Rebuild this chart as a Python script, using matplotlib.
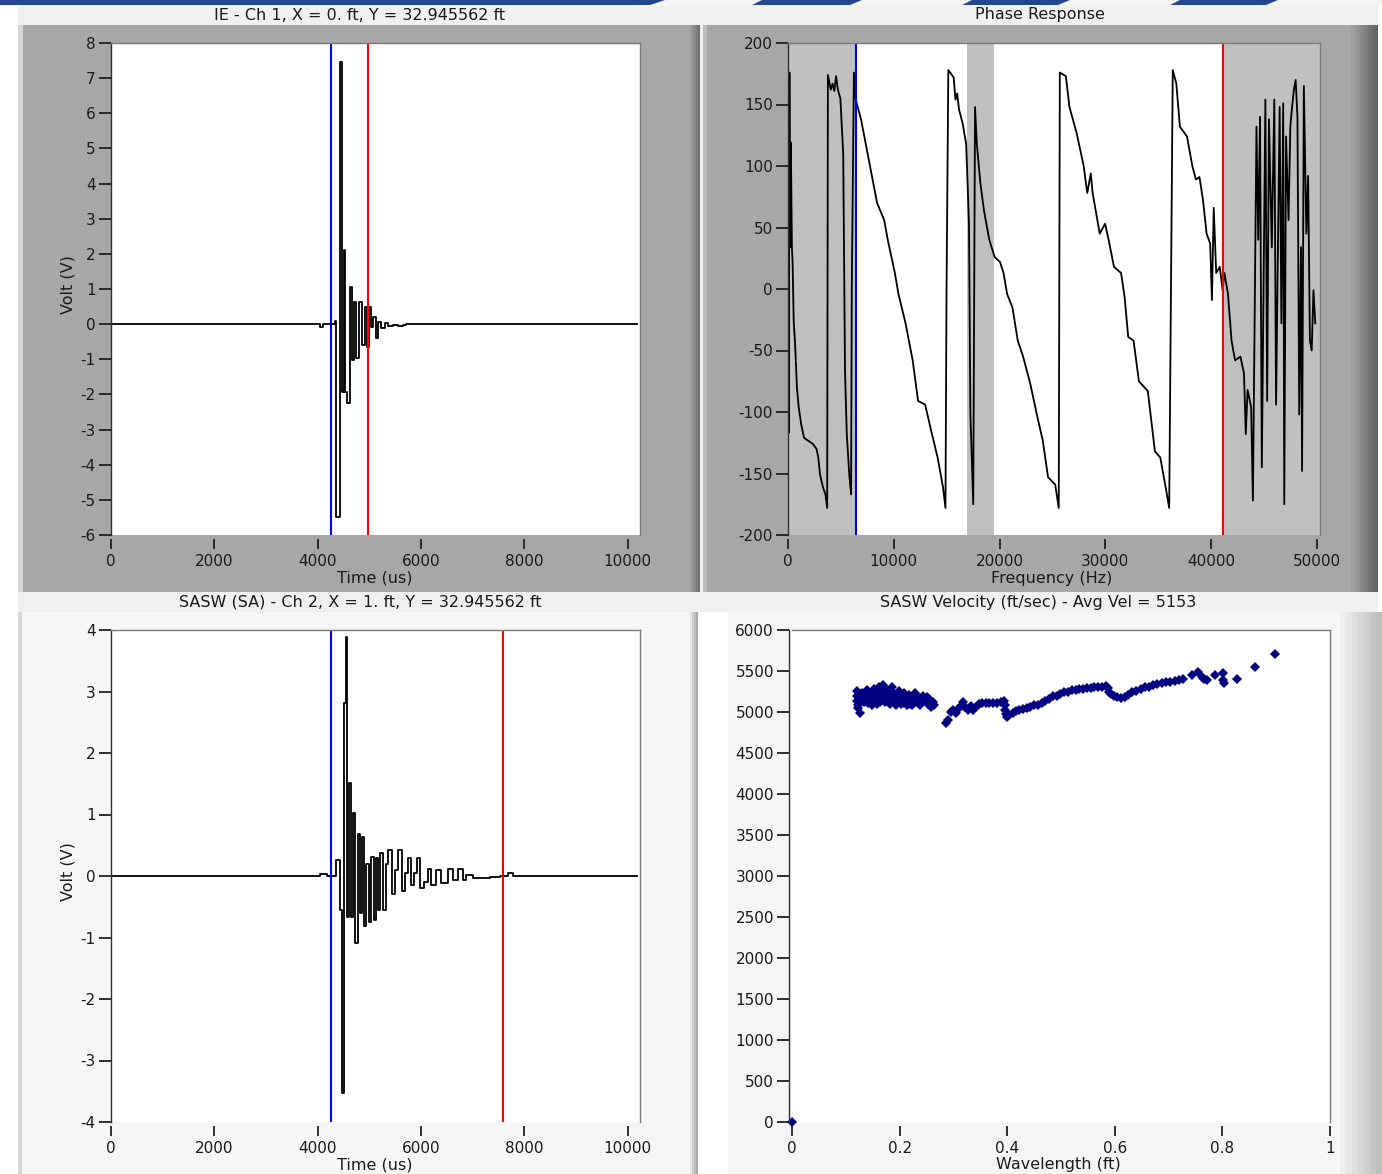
import matplotlib
matplotlib.use('Agg')
import matplotlib.pyplot as plt
from matplotlib.patches import Rectangle, Polygon

W, H = 1382, 1174

# ---------------- data ----------------
# IE - Ch 1 waveform (levels, drawn as steps)
ch1_t = [0, 4040, 4110, 4333, 4365, 4430, 4468, 4501, 4539, 4559, 4623, 4662, 4707,
         4752, 4804, 4849, 4913, 4958, 4991, 5029, 5074, 5126, 5177, 5235, 5300,
         5364, 5461, 5558, 5655, 5720, 10190]
ch1_v = [0, -0.08, 0, 0.1, -5.5, 7.45, -1.93, 2.1, -1.93, -2.25, 1.06, -1.02, 0.63,
         -0.97, 0.63, -0.6, 0.49, -0.65, 0.49, -0.08, 0.2, -0.4, 0.05, -0.1, 0.02,
         -0.06, -0.02, -0.06, -0.02, 0, 0]
ch1_cursors = [4255, 4977]

# SASW (SA) - Ch 2 waveform
ch2_t = [0, 4043, 4172, 4365, 4430, 4475, 4513, 4546, 4571, 4610, 4649, 4688, 4726,
         4778, 4816, 4855, 4900, 4945, 4991, 5029, 5087, 5139, 5177, 5216, 5274,
         5319, 5371, 5435, 5500, 5564, 5629, 5693, 5745, 5809, 5874, 5925, 5990,
         6054, 6138, 6203, 6299, 6396, 6525, 6622, 6718, 6815, 6880, 7008, 7170,
         7331, 7524, 7685, 7782, 10190]
ch2_v = [0, 0.03, 0, 0.26, -0.55, -3.53, 2.81, 3.89, -0.66, 1.51, -0.66, 1.02, -1.09,
         0.69, -0.6, 0.64, -0.82, 0.2, -0.75, 0.31, -0.71, 0.3, -0.55, 0.37, -0.55,
         0.2, 0.42, -0.3, 0.1, 0.42, -0.25, 0.05, 0.29, -0.15, 0.05, 0.29, -0.2,
         -0.1, 0.12, -0.14, 0.1, -0.12, 0.12, -0.06, 0.12, -0.06, 0.02, -0.04, -0.03,
         -0.01, 0, 0.05, 0, 0]
ch2_cursors = [4255, 7589]

# Phase response (deg vs Hz)
ph_f = [0, 67, 135, 202, 269, 370, 438, 539, 673, 842, 1010, 1246, 1515, 1852, 2357,
        2694, 2862, 3030, 3300, 3535, 3704, 3771, 4040, 4209, 4377, 4545, 4714, 4949,
        5219, 5387, 5556, 5791, 5960, 6027, 6229,
        6397, 6902, 7744, 8418, 9091, 9428, 10101, 10438, 11111, 11785, 12290, 12963,
        13468, 14141, 14646, 14882, 14983, 15152, 15657, 15825, 15993, 16162, 16498,
        16835, 16936, 17104, 17239, 17508, 17677, 17845, 18182, 18519, 19024, 19529,
        20034, 20370, 20707, 21212, 21717, 22222, 22896, 23569, 24074, 24579, 25253,
        25589, 25690, 26263, 26599, 27273, 27946, 28283, 28620, 28788, 28956, 29461,
        29966, 30303, 30808, 31481, 31818, 32155, 32660, 33165, 34007, 34680, 35185,
        35690, 36027, 36364, 36700, 37037, 37710, 38215, 38552, 38889, 39226, 39562,
        39899, 40067, 40236, 40471, 40808, 41077, 41246, 41582, 41919, 42256, 42761,
        43098, 43266, 43434, 43771, 43939, 44108, 44276, 44444, 44613, 44781, 45118,
        45286, 45455, 45724, 45960, 46128, 46465, 46633, 46802, 46903, 47071, 47307,
        47475, 47643, 47811, 47980, 48148, 48316, 48485, 48586, 48754, 48990, 49158,
        49327, 49495, 49663, 49832]
ph_deg = [180, -117, 176, 34, 119, 34, 21, -26, -45, -80, -96, -110, -121, -123, -126,
          -130, -137, -151, -161, -167, -178, 174, 162, 167, 161, 173, 162, 155,
          110, -66, -118, -151, -167, -1, 176,
          154, 138, 100, 70, 56, 40, 13, -4, -28, -58, -91, -94,
          -113, -137, -161, -178, -1, 178, 172, 154, 159, 146, 135,
          118, 95, 53, -102, -175, 148, 118, 86, 64, 40, 26,
          22, 13, -4, -15, -42, -55, -77, -104, -123, -153, -159,
          -178, 176, 173, 148, 127, 100, 78, 94, 78, 70, 45,
          53, 40, 18, 13, -7, -39, -42, -75, -83, -132, -137,
          -161, -178, 178, 167, 132, 124, 100, 89, 91, 72, 45,
          37, -9, 66, 13, 18, -1, 13, -4, -42, -58, -55,
          -69, -118, -82, -96, -172, -20, 132, 40, 140, -145, 154,
          -91, 138, 34, 154, -94, 148, -28, 151, -175, 124, 56,
          132, 148, 162, 170, 140, -102, 34, -148, 165, 45, 92,
          -42, -50, -1, -28]
ph_cursors = [6380, 41077]
ph_band = [16900, 19500]

# SASW velocity (ft/sec) vs wavelength (ft)
vel_lam = [0.0,
           0.121, 0.121, 0.121, 0.122, 0.123, 0.126, 0.128, 0.130, 0.133, 0.135, 0.138,
           0.140, 0.142, 0.145, 0.147, 0.150, 0.152, 0.155, 0.158, 0.160, 0.162, 0.165,
           0.167, 0.170, 0.172, 0.175, 0.177, 0.180, 0.182, 0.185, 0.188, 0.190, 0.193,
           0.195, 0.198, 0.200, 0.203, 0.205, 0.208, 0.210, 0.213, 0.215, 0.218, 0.220,
           0.223, 0.226, 0.228, 0.231, 0.234, 0.237, 0.240, 0.243, 0.246, 0.250, 0.253,
           0.256, 0.259, 0.262, 0.264,
           0.132, 0.137, 0.143, 0.148, 0.153, 0.157, 0.163, 0.168, 0.173, 0.178, 0.183,
           0.187, 0.192, 0.197, 0.202, 0.207, 0.212, 0.217, 0.222, 0.227, 0.233, 0.238,
           0.244, 0.249, 0.255, 0.260,
           0.286, 0.290, 0.296, 0.300, 0.305, 0.309, 0.314, 0.318, 0.322, 0.327, 0.332,
           0.337, 0.342, 0.347, 0.353, 0.360, 0.367, 0.374, 0.381, 0.388, 0.394, 0.396,
           0.396, 0.397, 0.399, 0.404, 0.410, 0.416, 0.422, 0.429, 0.436, 0.443, 0.450,
           0.457, 0.464, 0.471, 0.478, 0.485, 0.492, 0.499, 0.506, 0.513, 0.520, 0.527,
           0.534, 0.541, 0.548, 0.555, 0.562, 0.569, 0.576, 0.583, 0.587, 0.590, 0.593,
           0.598, 0.605, 0.612, 0.619, 0.625, 0.632, 0.640, 0.648, 0.656, 0.664, 0.671,
           0.679, 0.687, 0.695, 0.703, 0.711, 0.719, 0.727,
           0.743, 0.755, 0.762, 0.766, 0.771, 0.786, 0.801, 0.801, 0.803, 0.827, 0.861,
           0.898]
vel_fps = [0,
           5260, 5200, 5140, 5090, 5050, 4990, 5180, 5230, 5120, 5160, 5210,
           5270, 5110, 5170, 5230, 5140, 5280, 5200, 5100, 5250, 5310, 5160,
           5220, 5330, 5120, 5280, 5190, 5240, 5100, 5300, 5170, 5220, 5080,
           5140, 5260, 5190, 5100, 5150, 5230, 5180, 5080, 5120, 5210, 5160,
           5090, 5140, 5230, 5190, 5110, 5170, 5120, 5200, 5150, 5180, 5100,
           5140, 5060, 5120, 5080,
           5200, 5140, 5200, 5080, 5230, 5180, 5120, 5290, 5200, 5150, 5270,
           5130, 5180, 5210, 5140, 5110, 5160, 5100, 5180, 5110, 5150, 5090,
           5170, 5130, 5160, 5100,
           4870, 4900, 5000, 5030, 4990, 5040, 5070, 5120, 5060, 5030, 5070,
           5030, 5060, 5100, 5110, 5110, 5110, 5110, 5110, 5120, 5130, 5080,
           5030, 4980, 4940, 4960, 4990, 5010, 5030, 5040, 5050, 5060, 5080,
           5090, 5110, 5140, 5160, 5190, 5200, 5220, 5240, 5250, 5265, 5270,
           5280, 5285, 5290, 5295, 5300, 5300, 5305, 5320, 5290, 5250, 5220,
           5200, 5180, 5175, 5180, 5210, 5240, 5260, 5275, 5300, 5310, 5330,
           5340, 5350, 5360, 5370, 5380, 5390, 5400,
           5450, 5490, 5430, 5400, 5385, 5450, 5475, 5390, 5355, 5400, 5550,
           5705]

tl_title = 'IE - Ch 1, X = 0. ft, Y = 32.945562 ft'
tr_title = 'Phase Response'
bl_title = 'SASW (SA) - Ch 2, X = 1. ft, Y = 32.945562 ft'
br_title = 'SASW Velocity (ft/sec) - Avg Vel = 5153'

time_ticks = [0, 2000, 4000, 6000, 8000, 10000]
ch1_yticks = list(range(-6, 9))
ch2_yticks = list(range(-4, 5))
ph_xticks = [0, 10000, 20000, 30000, 40000, 50000]
ph_yticks = [-200, -150, -100, -50, 0, 50, 100, 150, 200]
vel_xticks = [0, 0.2, 0.4, 0.6, 0.8, 1]
vel_xlabels = ['0', '0.2', '0.4', '0.6', '0.8', '1']
vel_yticks = list(range(0, 6001, 500))

# ---------------- figure ----------------
fig = plt.figure(figsize=(W / 100, H / 100), dpi=100)
fig.patch.set_facecolor('#f0f0f0')


def box(x0, y0, x1, y1):
    return [x0 / W, 1 - y1 / H, (x1 - x0) / W, (y1 - y0) / H]


def rect(x0, y0, x1, y1, color):
    fig.patches.append(Rectangle((x0 / W, 1 - y1 / H), (x1 - x0) / W, (y1 - y0) / H,
                                 transform=fig.transFigure, facecolor=color,
                                 edgecolor='none', zorder=-10))


def poly(pts, color):
    fig.patches.append(Polygon([(x / W, 1 - y / H) for x, y in pts], closed=True,
                               transform=fig.transFigure, facecolor=color,
                               edgecolor='none', zorder=-10))


def text(x, y, s, **kw):
    kw.setdefault('fontsize', 11.5)
    fig.text(x / W, 1 - y / H, s, ha='center', va='center', color='#1a1a1a', **kw)


# window strip at the top
rect(0, 0, W, 6, '#f4f4f4')
poly([(0, 0), (665, 0), (650, 5), (0, 5)], '#24468f')
for a, b in [(752, 862), (962, 1070), (1170, 1278)]:
    poly([(a + 10, 0), (b, 0), (b - 12, 5), (a, 5)], '#24468f')
rect(0, 6, 18, H, '#ffffff')

# top frames (dark gray)
rect(18, 25, 700, 592, '#a7a7a7')
rect(18, 25, 23, 592, '#d6d6d6')
rect(703, 25, 1378, 592, '#a7a7a7')
rect(703, 25, 707, 592, '#bdbdbd')
for i, c in enumerate(['#9c9c9c', '#909090', '#858585', '#7a7a7a', '#707070']):
    rect(690 + 2 * i, 25, 692 + 2 * i, 592, c)
for i, c in enumerate(['#a0a0a0', '#999999', '#929292', '#8a8a8a', '#828282',
                       '#7a7a7a', '#727272', '#6a6a6a', '#636363']):
    rect(1351 + 3 * i, 25, 1354 + 3 * i, 592, c)
rect(1378, 6, W, H, '#ffffff')

# bottom frames (light)
rect(18, 612, 698, H, '#f6f6f6')
rect(18, 612, 22, H, '#d8d8d8')
for i, c in enumerate(['#e4e4e4', '#d0d0d0', '#bcbcbc', '#a8a8a8']):
    rect(690 + 2 * i, 612, 692 + 2 * i, H, c)
rect(698, 612, 728, H, '#ffffff')
rect(728, 612, 1340, H, '#f5f5f5')
for i, c in enumerate(['#eeeeee', '#e6e6e6', '#dedede', '#d6d6d6', '#cecece',
                       '#c6c6c6', '#bebebe']):
    rect(1340 + 6 * i, 612, 1346 + 6 * i, H, c)


def style(ax):
    ax.set_zorder(5)
    for s in ['top', 'right']:
        ax.spines[s].set_color('#7a7a7a')
        ax.spines[s].set_linewidth(1.0)
    ax.spines['left'].set_color('#303030')
    ax.spines['left'].set_linewidth(1.0)
    ax.spines['bottom'].set_color('none')
    ax.spines['bottom'].set_position(('outward', 3))
    ax.tick_params(axis='y', length=9, width=1.3, pad=2, labelsize=11,
                   color='#202020', labelcolor='#1a1a1a')
    ax.tick_params(axis='x', length=7, width=1.3, pad=4, labelsize=11,
                   color='#202020', labelcolor='#1a1a1a')


# ---- IE - Ch 1 ----
ax1 = fig.add_axes(box(111, 43, 640, 535))
ax1.step(ch1_t, ch1_v, where='post', color='black', lw=1.3)
for c, col in zip(ch1_cursors, ['#0000ff', '#ff0000']):
    ax1.axvline(c, color=col, lw=1.5)
ax1.set_xlim(0, 10240)
ax1.set_ylim(-6, 8)
ax1.set_xticks(time_ticks)
ax1.set_xticklabels([str(v) for v in time_ticks])
ax1.set_yticks(ch1_yticks)
ax1.set_yticklabels([str(v) for v in ch1_yticks])
style(ax1)

# ---- Phase Response ----
ax2 = fig.add_axes(box(788, 43, 1320, 535))
ax2.set_facecolor('white')
ax2.axvspan(0, ph_cursors[0], color='#c0c0c0', lw=0)
ax2.axvspan(ph_band[0], ph_band[1], color='#c0c0c0', lw=0)
ax2.axvspan(ph_cursors[1], 50300, color='#c0c0c0', lw=0)
ax2.plot(ph_f, ph_deg, color='black', lw=1.3)
for c, col in zip(ph_cursors, ['#0000ff', '#ff0000']):
    ax2.axvline(c, color=col, lw=1.5)
ax2.set_xlim(0, 50280)
ax2.set_ylim(-200, 200)
ax2.set_xticks(ph_xticks)
ax2.set_xticklabels([str(v) for v in ph_xticks])
ax2.set_yticks(ph_yticks)
ax2.set_yticklabels([str(v) for v in ph_yticks])
style(ax2)

# ---- SASW Ch 2 ----
ax3 = fig.add_axes(box(111, 630, 640, 1122))
ax3.step(ch2_t, ch2_v, where='post', color='black', lw=1.3)
for c, col in zip(ch2_cursors, ['#0000ff', '#ff0000']):
    ax3.axvline(c, color=col, lw=1.5)
ax3.set_xlim(0, 10240)
ax3.set_ylim(-4, 4)
ax3.set_xticks(time_ticks)
ax3.set_xticklabels([str(v) for v in time_ticks])
ax3.set_yticks(ch2_yticks)
ax3.set_yticklabels([str(v) for v in ch2_yticks])
style(ax3)

# ---- SASW velocity ----
ax4 = fig.add_axes(box(792, 630, 1330, 1122))
ax4.plot(vel_lam, vel_fps, 'D', color='#000080', ms=5, mew=0, clip_on=False)
ax4.set_xlim(0, 1)
ax4.set_ylim(0, 6000)
ax4.set_xticks(vel_xticks)
ax4.set_xticklabels(vel_xlabels)
ax4.set_yticks(vel_yticks)
ax4.set_yticklabels([str(v) for v in vel_yticks])
style(ax4)
ax4.spines['left'].set_position(('outward', 2))

# titles and axis labels
text(360, 15, tl_title)
text(1040, 15, tr_title)
text(360, 602, bl_title)
text(1038, 602, br_title)
text(375, 578, 'Time (us)')
text(1052, 578, 'Frequency (Hz)')
text(375, 1165, 'Time (us)')
text(1058, 1165, 'Wavelength (ft)')
text(68, 285, 'Volt (V)', rotation=90)
text(68, 872, 'Volt (V)', rotation=90)

fig.savefig('out.png', dpi=100)
